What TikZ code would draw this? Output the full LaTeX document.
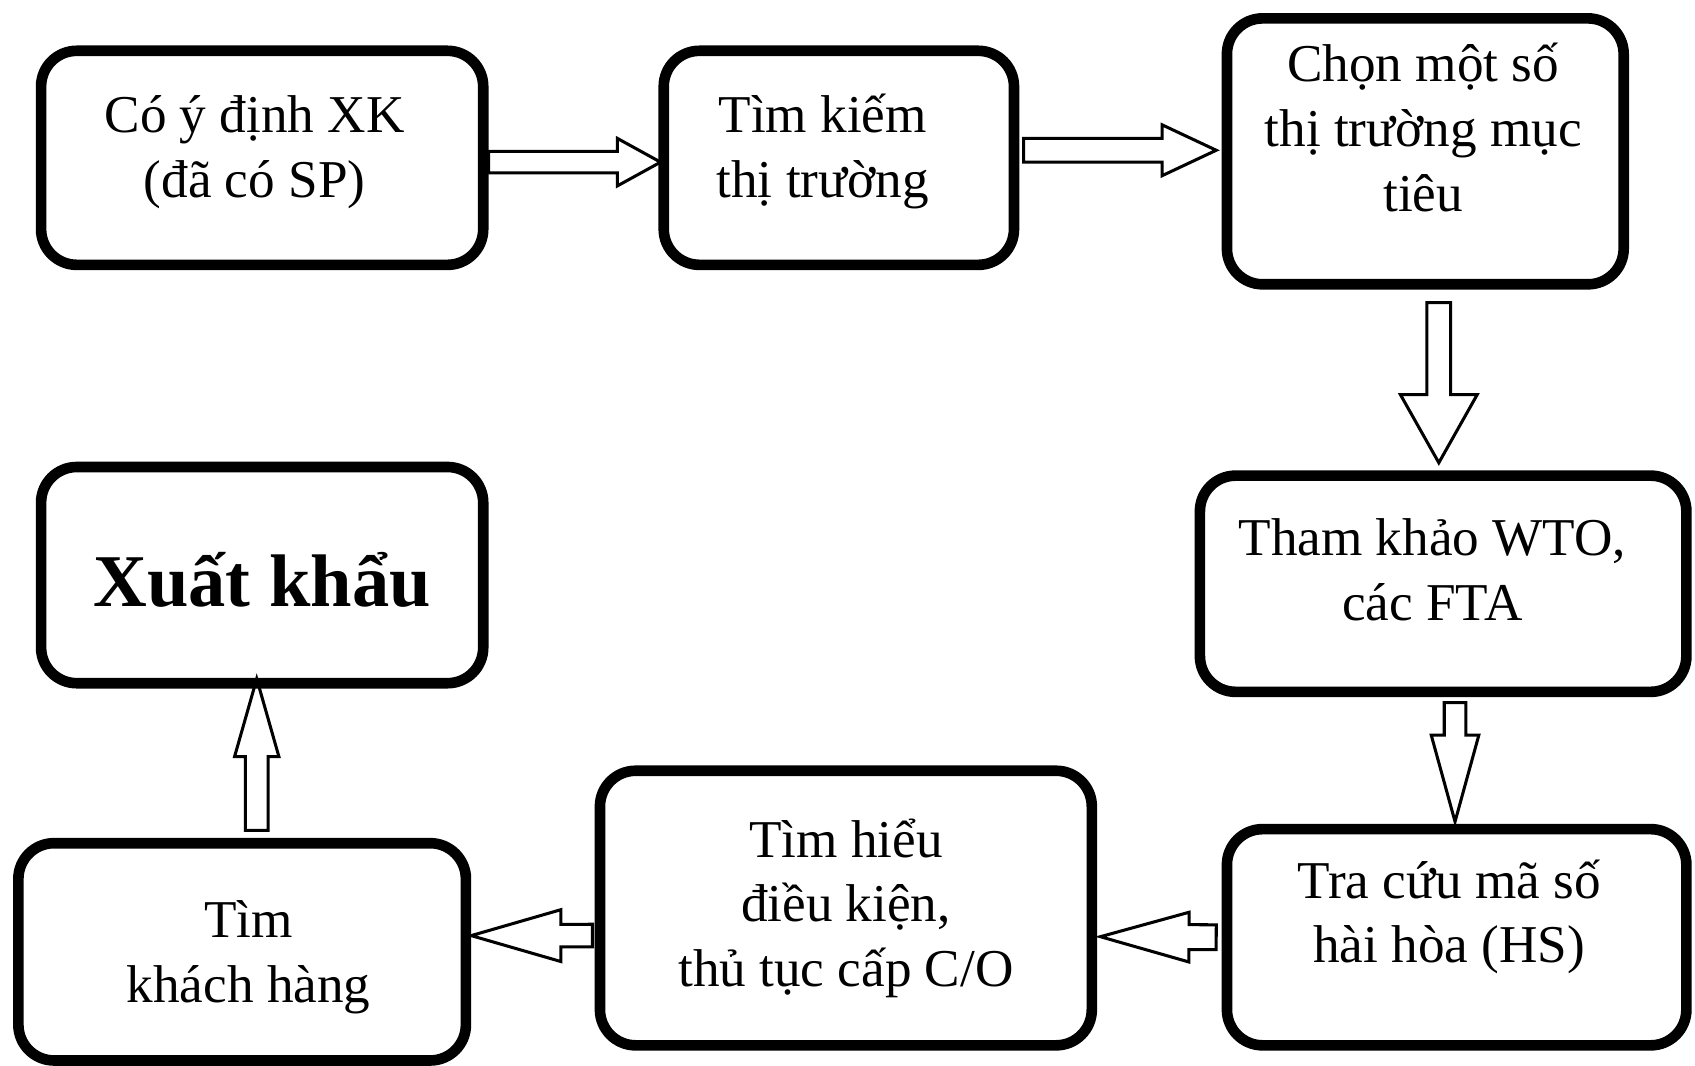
\documentclass[tikz,border=0pt]{standalone}
\usepackage{fontspec}
\setmainfont{Liberation Serif}
\usetikzlibrary{calc}

\tikzset{
  stepbox/.style={draw, line width=2.8pt, rounded corners=0.33cm, inner sep=0pt},
  steptext/.style={align=center, font=\fontsize{14pt}{17pt}\selectfont},
  % hollow block arrow: shaft half width, head half width, head length
  hollowarrow/.style n args={3}{draw, line width=0.8pt, line join=miter,
    to path={
      -- ($(\tikztostart)!#1!90:(\tikztotarget)$)
      -- ($(\tikztotarget)!#3!(\tikztostart)!#1!-90:(\tikztostart)$)
      -- ($(\tikztotarget)!#3!(\tikztostart)!#2!-90:(\tikztostart)$)
      -- (\tikztotarget)
      -- ($(\tikztotarget)!#3!(\tikztostart)!#2!90:(\tikztostart)$)
      -- ($(\tikztotarget)!#3!(\tikztostart)!#1!90:(\tikztostart)$)
      -- ($(\tikztostart)!#1!-90:(\tikztotarget)$)
      -- cycle}}
}

\begin{document}
\begin{tikzpicture}
  \useasboundingbox (0,0) rectangle (15.68,9.86);

  % boxes
  \node[stepbox, minimum width=4.09cm, minimum height=1.98cm] (intent) at (2.425,8.40) {};
  \node[steptext] (intenttxt) at ([xshift=-0.07cm,yshift=0.05cm]intent.center) {Có ý định XK\\(đã có SP)};
  \node[stepbox, minimum width=3.24cm, minimum height=1.98cm] (search) at (7.76,8.40) {};
  \node[steptext] (searchtxt) at ([xshift=-0.15cm,yshift=0.06cm]search.center) {Tìm kiếm\\thị trường};
  \node[stepbox, minimum width=3.67cm, minimum height=2.46cm] (select) at (13.185,8.46) {};
  \node[steptext] (selecttxt) at ([xshift=-0.02cm,yshift=0.22cm]select.center) {Chọn một số\\thị trường mục\\tiêu};
  \node[stepbox, minimum width=4.50cm, minimum height=2.00cm] (wto) at (13.35,4.46) {};
  \node[steptext] (wtotxt) at ([xshift=-0.10cm,yshift=0.13cm]wto.center) {Tham khảo WTO,\\các FTA};
  \node[stepbox, minimum width=4.25cm, minimum height=2.00cm] (hscode) at (13.475,1.19) {};
  \node[steptext] (hscodetxt) at ([xshift=-0.07cm,yshift=0.19cm]hscode.center) {Tra cứu mã số\\hài hòa (HS)};
  \node[stepbox, minimum width=4.55cm, minimum height=2.54cm] (origin) at (7.825,1.46) {};
  \node[steptext] (origintxt) at (origin.center) {Tìm hiểu\\điều kiện,\\thủ tục cấp C/O};
  \node[stepbox, minimum width=4.14cm, minimum height=2.01cm] (buyer) at (2.24,1.055) {};
  \node[steptext] (buyertxt) at ([xshift=0.06cm,yshift=-0.05cm]buyer.center) {Tìm\\khách hàng};
  \node[stepbox, minimum width=4.09cm, minimum height=2.00cm] (export) at (2.425,4.54) {};
  \node[steptext, font=\fontsize{19.6pt}{22pt}\selectfont\bfseries] (exporttxt) at ([yshift=-0.04cm]export.center) {Xuất khẩu};

  % arrows
  \draw[hollowarrow={0.10cm}{0.22cm}{0.40cm}] ([yshift=-0.04cm]intent.east) to ([xshift=0.02cm,yshift=-0.04cm]search.west);
  \draw[hollowarrow={0.11cm}{0.235cm}{0.50cm}] ([xshift=0.04cm,yshift=0.07cm]search.east) to ([xshift=-0.05cm,yshift=0.01cm]select.west);
  \draw[hollowarrow={0.11cm}{0.355cm}{0.63cm}] ([xshift=0.125cm,yshift=-0.12cm]select.south) to ([xshift=-0.04cm,yshift=0.07cm]wto.north);
  \draw[hollowarrow={0.10cm}{0.22cm}{0.80cm}] ([xshift=0.11cm,yshift=-0.05cm]wto.south) to ([xshift=-0.015cm,yshift=0.02cm]hscode.north);
  \draw[hollowarrow={0.115cm}{0.23cm}{0.82cm}] ([xshift=-0.05cm]hscode.west) to ([xshift=0.03cm,yshift=-0.265cm]origin.east);
  \draw[hollowarrow={0.105cm}{0.24cm}{0.83cm}] ([xshift=-0.02cm,yshift=-0.255cm]origin.west) to ([yshift=0.15cm]buyer.east);
  \draw[hollowarrow={0.105cm}{0.205cm}{0.72cm}] ([xshift=0.135cm,yshift=0.07cm]buyer.north) to ([xshift=-0.05cm,yshift=0.09cm]export.south);
\end{tikzpicture}
\end{document}
